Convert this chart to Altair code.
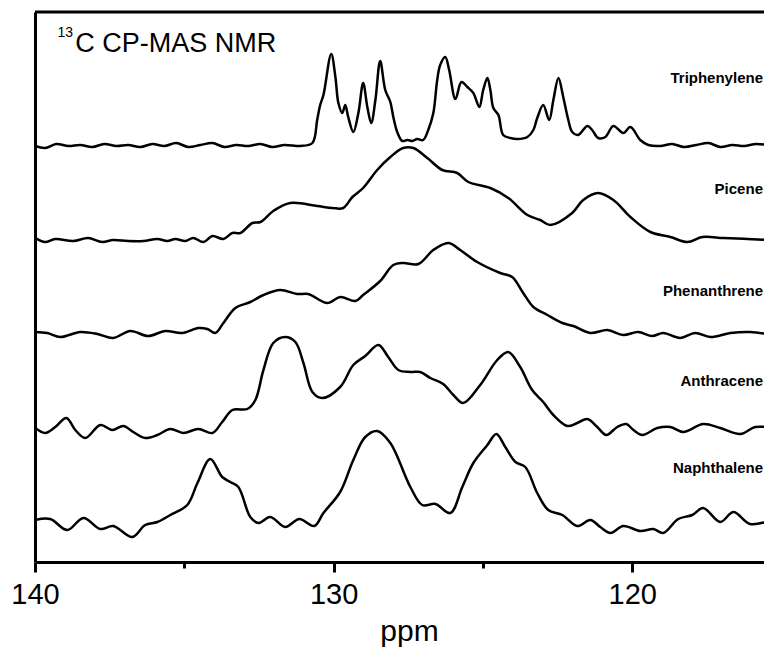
import altair as alt
import pandas as pd

names = ["Triphenylene", "Picene", "Phenanthrene", "Anthracene", "Naphthalene"]

tri_ppm = [139.99, 139.66, 139.29, 138.88, 138.48, 138.08, 137.68, 137.27, 136.88, 136.47,
           136.07, 135.67, 135.27, 134.87, 134.46, 134.06, 133.66, 133.26, 132.86, 132.45,
           132.05, 131.65, 131.25, 131.12, 130.71, 130.55, 130.45, 130.34, 130.08, 129.94,
           129.84, 129.71, 129.61, 129.51, 129.34, 129.17, 129.01, 128.87, 128.74, 128.60,
           128.44, 128.27, 128.10, 128.00, 127.87, 127.70, 127.53, 127.36, 127.20, 127.00,
           126.83, 126.66, 126.53, 126.43, 126.26, 126.13, 125.92, 125.72, 125.52, 125.32,
           125.12, 124.99, 124.85, 124.75, 124.65, 124.48, 124.32, 124.08, 123.85, 123.51,
           123.31, 123.18, 122.98, 122.78, 122.64, 122.47, 122.31, 122.14, 122.01, 121.81,
           121.50, 121.34, 121.14, 120.90, 120.63, 120.30, 120.06, 119.73, 119.46, 119.06,
           118.66, 118.26, 117.85, 117.45, 117.05, 116.65, 116.25, 115.84, 115.31]
tri_int = [416, 414, 418, 416, 417, 415, 418, 416, 417, 415,
           418, 416, 419, 415, 417, 419, 415, 417, 416, 418,
           415, 417, 416, 416, 419, 442, 457, 467, 508, 485,
           459, 449, 457, 445, 430, 449, 479, 455, 439, 462,
           501, 472, 460, 445, 430, 421, 422, 421, 423, 422,
           432, 449, 482, 497, 505, 492, 463, 480, 475, 469,
           455, 472, 484, 472, 454, 447, 427, 424, 423, 425,
           432, 444, 457, 442, 462, 484, 465, 442, 430, 427,
           436, 432, 424, 425, 436, 429, 435, 422, 417, 416,
           418, 415, 417, 419, 415, 417, 416, 418, 416]

pic_ppm = [139.99, 139.66, 139.32, 138.72, 138.22, 137.75, 137.38, 136.88, 136.37, 135.90,
           135.57, 135.30, 134.97, 134.70, 134.36, 134.06, 133.69, 133.39, 133.12, 132.72,
           132.45, 132.02, 131.45, 130.55, 130.04, 129.68, 129.37, 129.01, 128.54, 128.10,
           127.67, 127.33, 126.86, 126.36, 125.86, 125.49, 124.75, 124.15, 123.51, 123.08,
           122.74, 122.01, 121.64, 121.14, 120.63, 120.06, 119.39, 118.72, 118.15, 117.65,
           116.95, 116.15, 115.31]
pic_int = [324, 320, 323, 321, 324, 320, 322, 321, 321, 323,
           321, 323, 321, 324, 320, 326, 323, 329, 329, 339,
           340, 351, 359, 356, 354, 354, 365, 374, 392, 405,
           414, 414, 404, 392, 389, 380, 374, 364, 347, 342,
           337, 349, 362, 369, 362, 345, 330, 325, 320, 325,
           324, 323, 322]

phe_ppm = [139.99, 139.59, 139.15, 138.48, 137.91, 137.38, 136.81, 136.21, 135.64, 135.07,
           134.53, 134.23, 133.96, 133.69, 133.29, 132.79, 132.35, 131.79, 131.22, 130.85,
           130.21, 129.78, 129.27, 129.01, 128.44, 128.00, 127.67, 127.16, 126.66, 126.16,
           125.76, 125.19, 124.42, 124.02, 123.65, 123.31, 122.84, 122.34, 121.97, 121.40,
           120.83, 120.30, 119.80, 119.33, 118.96, 118.39, 117.89, 117.38, 116.71, 116.05,
           115.31]
phe_int = [230, 229, 225, 230, 228, 224, 231, 226, 231, 229,
           234, 233, 229, 239, 254, 260, 267, 272, 268, 268,
           259, 265, 261, 267, 281, 297, 299, 298, 312, 319,
           312, 300, 289, 285, 269, 255, 247, 239, 236, 229,
           232, 227, 230, 226, 229, 224, 229, 225, 229, 230,
           227]

ant_ppm = [139.99, 139.66, 139.32, 138.95, 138.65, 138.32, 137.81, 137.41, 137.04, 136.71,
           136.31, 135.90, 135.47, 135.03, 134.53, 134.06, 133.73, 133.39, 132.89, 132.62,
           132.35, 132.02, 131.62, 131.28, 131.01, 130.71, 130.38, 129.78, 129.34, 128.94,
           128.50, 128.17, 127.83, 127.43, 127.10, 126.76, 126.33, 125.99, 125.66, 125.09,
           124.52, 124.15, 123.75, 123.35, 122.98, 122.64, 122.17, 121.84, 121.50, 121.17,
           120.87, 120.50, 120.20, 119.96, 119.66, 119.16, 118.72, 118.29, 117.62, 117.05,
           116.38, 115.88, 115.31]
ant_int = [134, 129, 135, 144, 132, 124, 137, 132, 136, 130,
           124, 127, 133, 129, 133, 129, 140, 152, 153, 162,
           192, 219, 225, 220, 199, 170, 164, 175, 197, 206,
           217, 205, 192, 190, 190, 184, 178, 167, 159, 177,
           202, 210, 195, 172, 160, 147, 136, 139, 143, 135,
           127, 135, 138, 132, 127, 134, 135, 130, 138, 134,
           128, 135, 134]

nap_ppm = [139.99, 139.49, 138.92, 138.38, 137.81, 137.38, 136.74, 136.31, 135.90, 135.47,
           134.90, 134.56, 134.13, 133.73, 133.46, 133.19, 132.79, 132.52, 132.12, 131.62,
           131.15, 130.65, 130.34, 129.78, 129.34, 128.94, 128.54, 128.10, 127.43, 127.03,
           126.59, 126.09, 125.69, 125.32, 124.85, 124.55, 124.25, 123.91, 123.58, 123.18,
           122.81, 122.34, 121.84, 121.40, 121.07, 120.73, 120.30, 119.73, 119.29, 118.96,
           118.46, 117.99, 117.62, 117.05, 116.61, 116.05, 115.31]
nap_int = [42, 43, 32, 44, 33, 36, 25, 37, 40, 47,
           57, 79, 103, 85, 80, 75, 45, 39, 45, 35,
           43, 36, 49, 70, 102, 125, 131, 119, 75, 57,
           58, 49, 75, 99, 117, 128, 115, 100, 95, 69,
           52, 47, 36, 42, 35, 29, 36, 31, 33, 29,
           43, 47, 54, 40, 50, 38, 42]

label_ppm = [115.62, 115.62, 115.62, 115.62, 115.62]
label_int = [479, 368, 266, 176, 89]

x_ticks = [140, 135, 130, 125, 120]
x_domain = [115.586, 140]
y_domain = [0, 550]

rows = []
for name, xs, ys in zip(names,
                        [tri_ppm, pic_ppm, phe_ppm, ant_ppm, nap_ppm],
                        [tri_int, pic_int, phe_int, ant_int, nap_int]):
    for p, v in zip(xs, ys):
        rows.append({"spectrum": name, "ppm": p, "intensity": v})
df = pd.DataFrame(rows)

labels = pd.DataFrame({"text": names, "ppm": label_ppm, "intensity": label_int})
title_sup = pd.DataFrame({"text": ["13"], "ppm": [139.25], "intensity": [525]})
title_main = pd.DataFrame({"text": ["C CP-MAS NMR"], "ppm": [138.65], "intensity": [510]})
border = pd.DataFrame({"ppm": [140], "ppm2": [x_domain[0]], "intensity": [550]})

FONT = "Liberation Sans"
x_scale = alt.Scale(domain=x_domain, reverse=True, nice=False, zero=False)
y_scale = alt.Scale(domain=y_domain, nice=False, zero=False)

x_axis = alt.Axis(
    values=x_ticks,
    labelExpr="datum.value % 10 === 0 ? datum.label : ''",
    tickSize={"condition": {"test": "datum.value % 10 === 0", "value": 10}, "value": 6},
    tickWidth=3, tickColor="black",
    domainWidth=3, domainColor="black",
    labelFontSize=29, labelFont=FONT, labelColor="black", labelPadding=8,
    labelFlush=False, labelOverlap=False, grid=False,
    title="ppm", titleFontSize=30, titleFont=FONT, titleFontWeight="normal",
    titleColor="black", titleBaseline="alphabetic", titleY=78, titleX=374,
)
y_axis = alt.Axis(labels=False, ticks=False, grid=False, title=None,
                  domainWidth=3, domainColor="black")

X = alt.X("ppm:Q", scale=x_scale, axis=x_axis)
Y = alt.Y("intensity:Q", scale=y_scale, axis=y_axis)

lines = alt.Chart(df).mark_line(
    color="black", strokeWidth=2.5, interpolate="catmull-rom", clip=True
).encode(x=X, y=Y, detail="spectrum:N")

top_border = alt.Chart(border).mark_rule(color="black", strokeWidth=3).encode(
    x=X, x2="ppm2:Q", y=Y,
)

label_marks = alt.Chart(labels).mark_text(
    align="right", baseline="alphabetic", fontSize=15, fontWeight="bold",
    font=FONT, color="black"
).encode(x=X, y=Y, text="text:N")

sup_mark = alt.Chart(title_sup).mark_text(
    align="left", baseline="alphabetic", fontSize=14, font=FONT, color="black"
).encode(x=X, y=Y, text="text:N")

main_mark = alt.Chart(title_main).mark_text(
    align="left", baseline="alphabetic", fontSize=27, font=FONT, color="black"
).encode(x=X, y=Y, text="text:N")

chart = alt.layer(lines, top_border, label_marks, sup_mark, main_mark).properties(
    width=729, height=550,
    padding={"left": 27, "top": 4, "right": 0, "bottom": 86},
    autosize=alt.AutoSizeParams(type="none"),
).configure_view(stroke=None)

chart.save("out.html", embed_options={"renderer": "svg", "actions": False})
